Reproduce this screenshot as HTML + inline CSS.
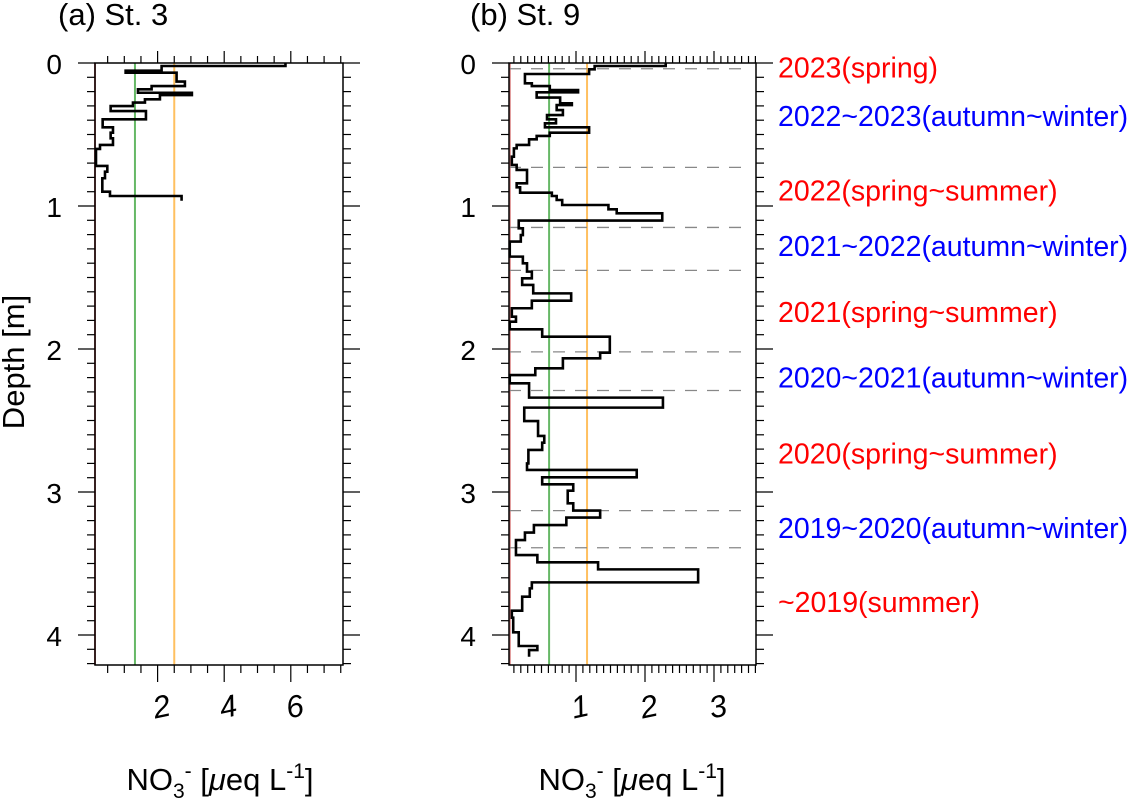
<!DOCTYPE html>
<html><head><meta charset="utf-8"><style>
html,body{margin:0;padding:0;background:#fff;}
svg{display:block;font-family:"Liberation Sans",sans-serif;}
</style></head><body>
<svg id="chart" width="1135" height="801" viewBox="0 0 1135 801" xmlns="http://www.w3.org/2000/svg">
</svg>
<script>
// Panel (a) St. 3 data
const depthA = [0.002,0.021,0.054,0.068,0.130,0.161,0.184,0.208,0.224,0.254,0.277,0.301,0.336,0.394,0.450,0.487,0.527,0.573,0.601,0.720,0.760,0.806,0.900,0.930,0.963];
const valuesA = [5.84,2.12,1.04,2.57,2.82,1.82,1.41,3.03,2.07,1.62,1.26,0.59,1.65,0.35,0.66,0.59,0.66,0.27,0.15,0.49,0.42,0.34,0.57,2.72];
const refLinesA = [0.12,1.32,2.5];
const ticksA = [2,4,6];
// Panel (b) St. 9 data
const depthB = [0,0.021,0.044,0.077,0.142,0.161,0.189,0.205,0.242,0.282,0.294,0.329,0.364,0.394,0.422,0.450,0.487,0.510,0.534,0.573,0.597,0.655,0.713,0.748,0.841,0.869,0.907,0.930,0.958,0.993,1.023,1.051,1.102,1.156,1.203,1.249,1.354,1.401,1.459,1.506,1.552,1.611,1.662,1.715,1.774,1.809,1.862,1.914,2.026,2.065,2.135,2.182,2.240,2.340,2.410,2.504,2.608,2.655,2.706,2.800,2.846,2.897,2.946,2.991,3.079,3.130,3.179,3.231,3.284,3.336,3.441,3.492,3.541,3.632,3.674,3.732,3.830,3.879,3.981,4.077,4.105,4.152];
const valuesB = [2.30,1.27,1.19,0.26,0.36,0.62,1.03,0.43,0.77,0.94,0.72,0.81,0.58,0.71,0.55,1.19,0.62,0.43,0.32,0.14,0.10,0.07,0.14,0.29,0.14,0.19,0.65,0.72,0.80,1.47,1.59,2.25,0.17,0.23,0.20,0.04,0.23,0.29,0.36,0.22,0.38,0.93,0.36,0.07,0.13,0.04,0.51,1.49,1.35,0.81,0.41,0.04,0.32,2.26,0.25,0.45,0.54,0.51,0.31,0.29,1.88,0.51,0.96,0.88,0.96,1.35,0.86,0.39,0.26,0.13,0.44,1.32,2.77,0.36,0.33,0.22,0.07,0.09,0.17,0.44,0.32];
const refLinesB = [0.04,0.61,1.16];
const ticksB = [1,2,3];
const periodDepths = [0.04,0.73,1.15,1.45,2.02,2.29,3.13,3.39];
const periodLabels = ["2023(spring)","2022~2023(autumn~winter)","2022(spring~summer)","2021~2022(autumn~winter)","2021(spring~summer)","2020~2021(autumn~winter)","2020(spring~summer)","2019~2020(autumn~winter)","~2019(summer)"];
const periodLabelDepths = [0.03,0.37,0.89,1.28,1.74,2.20,2.73,3.25,3.77];
const depthTicks = [0,1,2,3,4];

const NS="http://www.w3.org/2000/svg";
const svg=document.getElementById('chart');
function el(t,a,p){const e=document.createElementNS(NS,t);for(const k in a)e.setAttribute(k,a[k]);(p||svg).appendChild(e);return e;}
const Y0=63, PXM=143;
function yS(d){return Y0+d*PXM;}

function panel(cfg){
  const g=el('g',{});
  
  
  const xS=v=>cfg.x0+v*cfg.ppu;
  const L=cfg.left,R=cfg.right,T=63,B=665;
  const cols=['#d88080','#66b866','#ffc060'];
  cfg.ref.forEach((v,i)=>{const l=el('line',{x1:xS(v),x2:xS(v),y1:T,y2:B,stroke:cols[i],'stroke-width':2},g);
    
    });
  if(cfg.dashed){cfg.dashed.forEach(d=>{const l=el('line',{x1:L,x2:R-10,y1:yS(d),y2:yS(d),stroke:'#888','stroke-width':1.3,'stroke-dasharray':'12,10'},g);
    
    });}
  let p='M'+xS(cfg.vals[0])+','+yS(cfg.depth[0]);
  for(let i=0;i<cfg.vals.length;i++){
    p+=' H'+xS(cfg.vals[i])+' V'+yS(cfg.depth[i+1]);
  }
  const path=el('path',{d:p,fill:'none',stroke:'#000','stroke-width':2.6},g);
  
  
  const fr=el('rect',{x:L,y:T,width:R-L,height:B-T,fill:'none',stroke:'#000','stroke-width':1.5},g);
  
  
  for(let k=0;k<=42;k++){const y=yS(k/10);if(y>B+1)break;
    const maj=k%10===0;
    el('line',{x1:L-(maj?17:8),x2:L,y1:y,y2:y,stroke:'#000','stroke-width':1.2},g);
    el('line',{x1:R,x2:R+(maj?17:8),y1:y,y2:y,stroke:'#000','stroke-width':1.2},g);}
  for(let v=cfg.minStep;xS(v)<=R+0.5;v+=cfg.minStep){const x=xS(v);if(x<L)continue;
    const maj=cfg.ticks.some(t=>Math.abs(t-v)<1e-6);
    el('line',{x1:x,x2:x,y1:B,y2:B+(maj?17:8),stroke:'#000','stroke-width':1.2},g);
    el('line',{x1:x,x2:x,y1:T,y2:T-(maj?12:7),stroke:'#000','stroke-width':1.2},g);}
  cfg.ticks.forEach(t=>{const tx=el('text',{x:xS(t)+4,y:717,'font-size':31,'text-anchor':'middle',transform:`rotate(-12 ${xS(t)+4} 707)`,'font-style':'italic'},g);
    tx.textContent=t;
    
    });
  depthTicks.forEach(d=>{const tx=el('text',{x:L-33,y:yS(d)+11,'font-size':28,'text-anchor':'end'},g);
    tx.textContent=d;
    
    });
  const ttl=el('text',{x:cfg.titleX,y:25,'font-size':31},g);
  ttl.textContent=cfg.title;
  
  
  const xt=el('text',{x:cfg.xTitle,y:790,'font-size':31,'text-anchor':'middle'},g);
  xt.innerHTML='NO<tspan font-size="21" dy="8">3</tspan><tspan font-size="21" dy="-20">-</tspan><tspan dy="12"> [</tspan><tspan font-style="italic">μ</tspan>eq L<tspan font-size="21" dy="-12">-1</tspan><tspan dy="12">]</tspan>';
  
  
}
panel({name:'panel-a-st3',left:95,right:343,x0:91,ppu:33.3,minStep:0.5,depth:depthA,vals:valuesA,ref:refLinesA,ticks:ticksA,title:'(a) St. 3',titleX:58,xTitle:220});
panel({name:'panel-b-st9',left:509,right:756,x0:507,ppu:69,minStep:0.1,depth:depthB,vals:valuesB,ref:refLinesB,ticks:ticksB,title:'(b) St. 9',titleX:470,xTitle:632,dashed:periodDepths});
const yt=el('text',{x:0,y:0,'font-size':31,'text-anchor':'middle',transform:'translate(24 362) rotate(-90)'});
yt.textContent='Depth [m]';


periodLabels.forEach((s,i)=>{const t=el('text',{x:778,y:yS(periodLabelDepths[i])+10,'font-size':28.5,fill:s.includes('autumn')?'#0000ff':'#ff0000'});
  t.textContent=s;
  
  });
</script>
</body></html>
